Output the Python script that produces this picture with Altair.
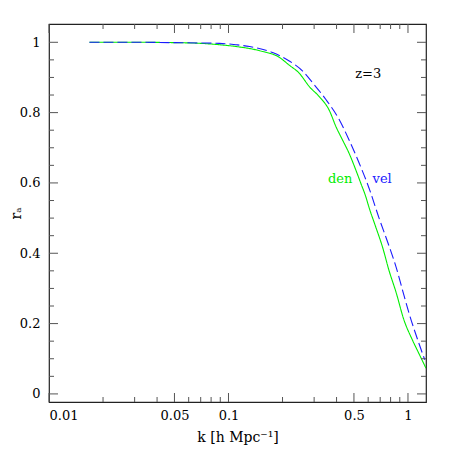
import altair as alt
import pandas as pd

# --- data ---
k_den = [0.0168, 0.03, 0.05, 0.07, 0.089, 0.11, 0.149, 0.192, 0.218, 0.248, 0.282, 0.321,
         0.364, 0.397, 0.432, 0.47, 0.512, 0.546, 0.582, 0.607, 0.66, 0.72, 0.785, 0.857,
         0.95, 1.057, 1.15, 1.26]
r_den = [1.0, 1.0, 0.999, 0.997, 0.993, 0.988, 0.976, 0.957, 0.935, 0.912, 0.874, 0.845,
         0.807, 0.760, 0.722, 0.684, 0.637, 0.599, 0.561, 0.53, 0.476, 0.419, 0.35, 0.29,
         0.21, 0.154, 0.115, 0.073]
k_vel = [0.0168, 0.03, 0.05, 0.07, 0.089, 0.11, 0.131, 0.176, 0.218, 0.259, 0.294, 0.348,
         0.415, 0.47, 0.535, 0.607, 0.69, 0.785, 0.857, 0.95, 1.013, 1.15, 1.24]
r_vel = [1.0, 1.0, 0.999, 0.998, 0.997, 0.993, 0.988, 0.971, 0.947, 0.918, 0.885, 0.838,
         0.779, 0.722, 0.656, 0.585, 0.50, 0.42, 0.362, 0.28, 0.23, 0.144, 0.097]

x_major = [0.01, 0.05, 0.1, 0.5, 1]
x_minor = [0.02, 0.03, 0.04, 0.06, 0.07, 0.08, 0.09, 0.2, 0.3, 0.4, 0.6, 0.7, 0.8, 0.9]
y_major = [0, 0.2, 0.4, 0.6, 0.8, 1.0]
y_minor = [0.05, 0.1, 0.15, 0.25, 0.3, 0.35, 0.45, 0.5, 0.55, 0.65, 0.7, 0.75, 0.85, 0.9, 0.95]

ann_text = ["z=3", "den", "vel"]
ann_k = [0.6, 0.419, 0.718]
ann_r = [0.91, 0.611, 0.611]
ann_color = ["black", "#00ee00", "#2020ff"]

W, H = 377, 378
FONT = "DejaVu Serif"

xs = alt.Scale(type="log", domain=[0.01, 1.26], nice=False)
ys = alt.Scale(domain=[-0.023, 1.052], nice=False, zero=False)

x_axis = alt.Axis(values=x_major, format="~g", title="k [h Mpc⁻¹]",
                  ticks=False, domain=False, grid=False, labelPadding=7,
                  titlePadding=8, labelFont=FONT, labelFontSize=13,
                  titleFont=FONT, titleFontSize=14, titleFontWeight="normal",
                  labelColor="black", titleColor="black")
y_axis = alt.Axis(values=y_major, format="~g", title="rₐ",
                  ticks=False, domain=False, grid=False, labelPadding=9,
                  titleX=-26, titleY=H / 2, titleAngle=270, titleBaseline="bottom",
                  titleAlign="center", labelFont=FONT, labelFontSize=13,
                  titleFont=FONT, titleFontSize=14, titleFontWeight="normal",
                  labelColor="black", titleColor="black")

lines = pd.DataFrame({
    "k": k_den + k_vel,
    "r": r_den + r_vel,
    "s": ["den"] * len(k_den) + ["vel"] * len(k_vel),
})

base_lines = alt.Chart(lines).mark_line(strokeWidth=1.1, clip=True, interpolate="monotone").encode(
    x=alt.X("k:Q", scale=xs, axis=x_axis),
    y=alt.Y("r:Q", scale=ys, axis=y_axis),
    color=alt.Color("s:N", scale=alt.Scale(domain=["den", "vel"], range=["#00ee00", "#1a1aff"]),
                    legend=None),
    strokeDash=alt.StrokeDash("s:N", scale=alt.Scale(domain=["den", "vel"],
                                                     range=[[1, 0], [10, 4]]), legend=None),
)

ann = pd.DataFrame({"t": ann_text, "k": ann_k, "r": ann_r, "c": ann_color})
texts = alt.Chart(ann).mark_text(font=FONT, fontSize=13).encode(
    x=alt.X("k:Q", scale=xs, axis=x_axis),
    y=alt.Y("r:Q", scale=ys, axis=y_axis),
    text="t:N",
    color=alt.Color("c:N", scale=None),
)

TICK_COLOR = "#555555"
def xticks(vals, length):
    d = pd.DataFrame({"k": vals})
    b = alt.Chart(d).mark_rule(color=TICK_COLOR, strokeWidth=1)
    bottom = b.encode(x=alt.X("k:Q", scale=xs, axis=x_axis), y=alt.value(H), y2=alt.value(H - length))
    top = b.encode(x=alt.X("k:Q", scale=xs, axis=x_axis), y=alt.value(0), y2=alt.value(length))
    return [bottom, top]

def yticks(vals, length):
    d = pd.DataFrame({"r": vals})
    b = alt.Chart(d).mark_rule(color=TICK_COLOR, strokeWidth=1)
    left = b.encode(y=alt.Y("r:Q", scale=ys, axis=y_axis), x=alt.value(0), x2=alt.value(length))
    right = b.encode(y=alt.Y("r:Q", scale=ys, axis=y_axis), x=alt.value(W - length), x2=alt.value(W))
    return [left, right]

layers = [base_lines, texts] + xticks(x_major, 9) + xticks(x_minor, 5) + yticks(y_major, 9) + yticks(y_minor, 5)

chart = alt.layer(*layers).properties(
    width=W, height=H,
    autosize=alt.AutoSizeParams(type="none"),
    padding={"left": 41, "top": 16, "right": 16, "bottom": 48},
).configure(background="white").configure_view(stroke="#222222", strokeWidth=1.2)

chart.save("out.html", embed_options={"renderer": "svg", "actions": False})
